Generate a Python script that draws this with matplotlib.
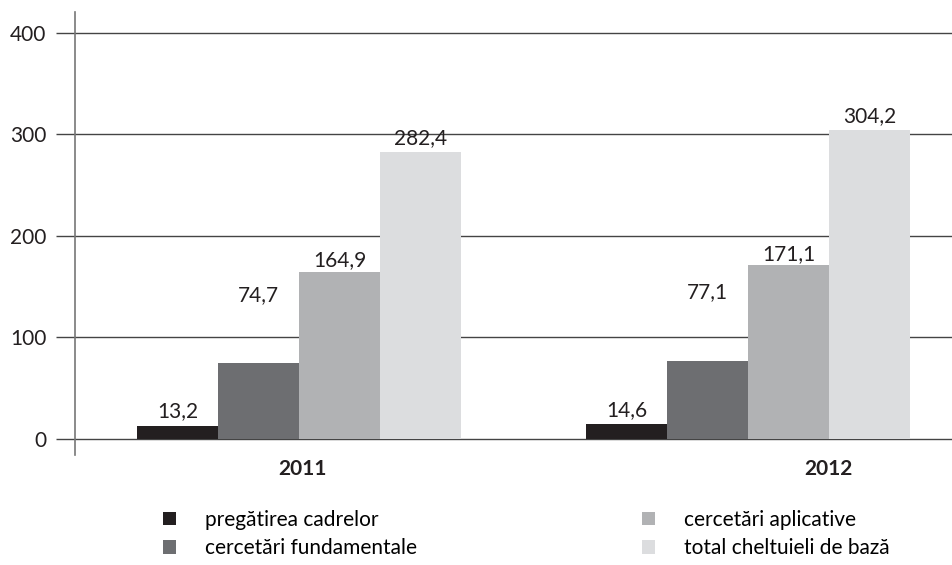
import numpy as np
import matplotlib.pyplot as plt
from matplotlib.patches import Patch

plt.rcParams['font.family'] = ['Lato', 'DejaVu Sans']

# data
years = ['2011', '2012']
series = ['pregătirea cadrelor', 'cercetări fundamentale',
          'cercetări aplicative', 'total cheltuieli de bază']
values = [
    [13.2, 14.6],
    [74.7, 77.1],
    [164.9, 171.1],
    [282.4, 304.2],
]
colors = ['#231f20', '#6d6e71', '#b1b2b4', '#dcdddf']
label_pad = [3, 42, 1, 3]  # the reference floats some labels higher
yticks = [0, 100, 200, 300, 400]

fig = plt.figure(figsize=(9.52, 5.65), dpi=100)
ax = fig.add_axes([75 / 952, 110 / 565, 877 / 952, 443 / 565])

x = np.arange(len(years))
w = 0.1804
for i, (name, vals) in enumerate(zip(series, values)):
    bars = ax.bar(x + (i - 1.5) * w, vals, w, color=colors[i], label=name, zorder=3)
    ax.bar_label(bars, labels=[f'{v:.1f}'.replace('.', ',') for v in vals],
                 padding=label_pad[i], fontsize=15, color='#231f20')

ax.set_xlim(-0.4989, 1.4543)
ax.set_ylim(-15.8, 420.7)

# grid lines and outward ticks
ax.set_yticks(yticks)
ax.yaxis.grid(True, color='#444444', linewidth=1, zorder=1)
ax.tick_params(axis='y', length=13.7, width=1, color='#444444', pad=7,
               labelsize=15, labelcolor='#231f20')
for s in ['top', 'right', 'bottom']:
    ax.spines[s].set_visible(False)
ax.spines['left'].set_color('#777777')
ax.spines['left'].set_linewidth(1.2)

# year labels
ax.set_xticks([0.007, 1.18])
ax.set_xticklabels(years, fontsize=15, fontweight='bold', color='#231f20')
ax.tick_params(axis='x', length=0, pad=3)

handles = [Patch(facecolor=c, edgecolor='none') for c in colors]
ax.legend(handles, series, ncol=2, frameon=False, fontsize=15,
          loc='upper left', bbox_to_anchor=(163 / 952, 55 / 565),
          bbox_transform=fig.transFigure, borderpad=0, borderaxespad=0,
          handlelength=0.62, handleheight=0.62, handletextpad=1.4,
          labelspacing=0.4, columnspacing=10.8)

plt.savefig('out.png', dpi=100)
